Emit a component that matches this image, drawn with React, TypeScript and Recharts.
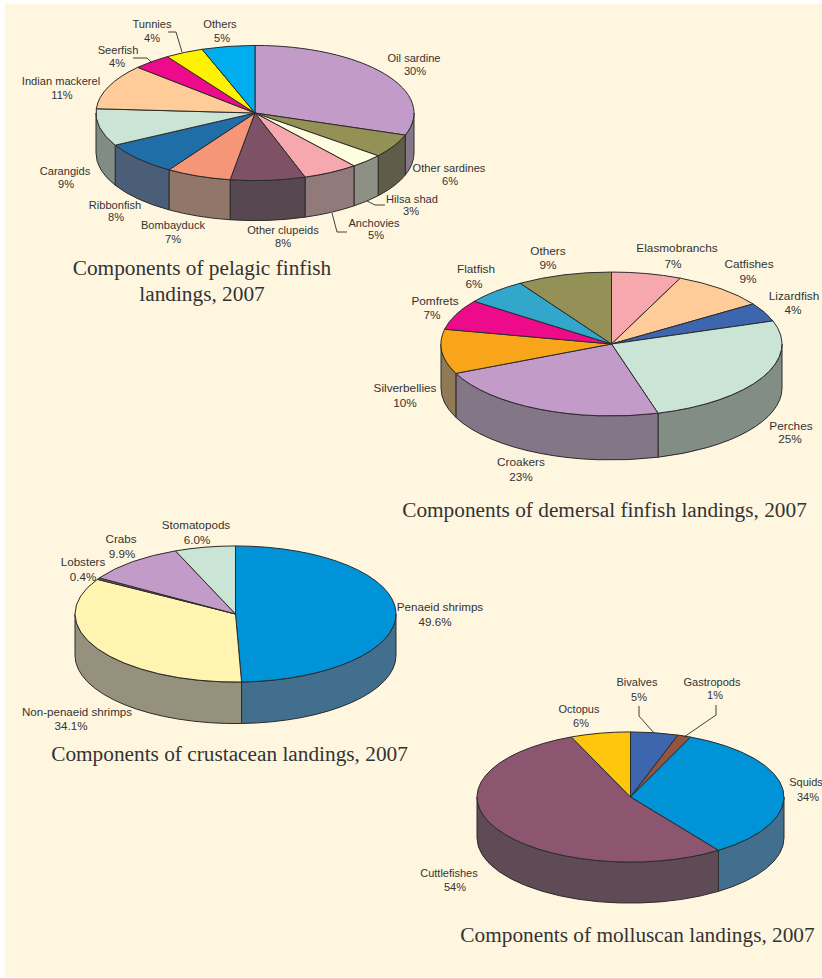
import { PieChart, Pie } from "recharts";

const WIDTH = 822;
const HEIGHT = 978;

// shares are read off the slice edges, the printed labels are rounded
// pelagic finfish
const pelagicNames = ["Oil sardine", "Other sardines", "Hilsa shad", "Anchovies", "Other clupeids", "Bombayduck", "Ribbonfish", "Carangids", "Indian mackerel", "Seerfish", "Tunnies", "Others"];
const pelagicShares = [30.3, 5.6, 3.4, 5.6, 7.6, 6.6, 8.0, 8.9, 10.8, 3.9, 3.9, 5.4];
const pelagicPrinted = ["30%", "6%", "3%", "5%", "8%", "7%", "8%", "9%", "11%", "4%", "4%", "5%"];
const pelagicColors = ["#c29bc8", "#949157", "#fffde0", "#f7a8ae", "#7e5166", "#f59678", "#1f6ea8", "#cae5d5", "#ffcc99", "#ed0a8b", "#fff200", "#00aeef"];
const pelagicWalls = ["#85768a", "#5f5c4a", "#8f9085", "#917a79", "#564750", "#91776a", "#4a5e78", "#808c85", "#91806a", "#8a3a60", "#8f8a30", "#2f6f90"];

// demersal finfish
const demersalNames = ["Elasmobranchs", "Catfishes", "Lizardfish", "Perches", "Croakers", "Silverbellies", "Pomfrets", "Flatfish", "Others"];
const demersalShares = [6.6, 9.0, 4.2, 25.8, 22.7, 10.0, 6.8, 5.9, 9.0];
const demersalPrinted = ["7%", "9%", "4%", "25%", "23%", "10%", "7%", "6%", "9%"];
const demersalColors = ["#f7a8ae", "#ffcc99", "#3e66ae", "#cae5d5", "#c29bc8", "#f9a51a", "#ed0a8b", "#33a6cc", "#949157"];
const demersalWalls = ["#917a79", "#91806a", "#3f5378", "#828d85", "#837686", "#8f7a55", "#8a3a60", "#3f7388", "#5f5c4a"];

// crustaceans
const crustaceanNames = ["Penaeid shrimps", "Non-penaeid shrimps", "Lobsters", "Crabs", "Stomatopods"];
const crustaceanShares = [49.4, 34.1, 0.4, 10.0, 6.1];
const crustaceanPrinted = ["49.6%", "34.1%", "0.4%", "9.9%", "6.0%"];
const crustaceanColors = ["#0093d8", "#fff5b0", "#8c5570", "#c29bc8", "#cae5d5"];
const crustaceanWalls = ["#426f8e", "#95917c", "#5f4b56", "#837686", "#828d85"];

// molluscs
const molluscNames = ["Bivalves", "Gastropods", "Squids", "Cuttlefishes", "Octopus"];
const molluscShares = [5.0, 1.4, 33.9, 53.4, 6.3];
const molluscPrinted = ["5%", "1%", "34%", "54%", "6%"];
const molluscColors = ["#3e66ae", "#93553f", "#0093d8", "#8c5570", "#ffc60b"];
const molluscWalls = ["#3f5378", "#6a4a40", "#426f8e", "#5f4b56", "#8f7a30"];

const INK = "#2b2b2b";
const TEXT = "#333";

type LabelSpot = [number, number, number, number]; // x/y of name, x/y of percent

const pelagicSpots: LabelSpot[] = [
  [414, 58, 415, 71], [449, 168, 450, 181], [412, 199, 411, 211], [374, 223, 376, 235],
  [283, 230, 283, 243], [173, 225, 173, 239], [115, 205, 116, 217], [65, 171, 66, 184],
  [61, 81, 62, 95], [118, 50, 117, 63], [152, 24, 152, 38], [220, 24, 222, 38],
];
const demersalSpots: LabelSpot[] = [
  [677, 248, 673, 264], [749, 264, 748, 279], [794, 296, 793, 310], [791, 426, 790, 439],
  [521, 462, 521, 477], [405, 388, 405, 403], [435, 301, 432, 315], [476, 269, 474, 284], [548, 251, 548, 265],
];
const crustaceanSpots: LabelSpot[] = [
  [440, 607, 435, 622], [77, 712, 71, 726], [83, 562, 83, 577], [121, 539, 122, 554], [196, 525, 197, 540],
];
const molluscSpots: LabelSpot[] = [
  [637, 682, 639, 697], [712, 682, 715, 695], [806, 782, 808, 797], [449, 873, 455, 887], [579, 709, 581, 723],
];

const pelagicLeaders: Record<string, string> = {
  "Hilsa shad": "367,201 375,205 385,205",
  Anchovies: "332,213 337,232 347,232",
  Seerfish: "133,58 147,58 152,63",
  Tunnies: "168,32 176,32 182,52",
};
const molluscLeaders: Record<string, string> = {
  Bivalves: "639,706 639,716 654,733",
  Gastropods: "716,705 716,715 684,737",
};

function point(cx: number, cy: number, rx: number, ry: number, deg: number) {
  const a = (deg * Math.PI) / 180;
  return [cx + rx * Math.cos(a), cy - ry * Math.sin(a)];
}

// top face of a slice, the library's circle squashed into an ellipse
function topFace(ratio: number) {
  return (props: any) => {
    const { cx, cy, outerRadius: rx, startAngle, endAngle, fill } = props;
    const ry = rx * ratio;
    const [x1, y1] = point(cx, cy, rx, ry, startAngle);
    const [x2, y2] = point(cx, cy, rx, ry, endAngle);
    const large = Math.abs(startAngle - endAngle) > 180 ? 1 : 0;
    const d = `M${cx},${cy} L${x1},${y1} A${rx},${ry} 0 ${large} 1 ${x2},${y2} Z`;
    return <path d={d} fill={fill} stroke={INK} strokeWidth={1} strokeLinejoin="round" />;
  };
}

// side wall of a slice, only the front half of the disc can be seen
function sideWall(ratio: number, depth: number) {
  return (props: any) => {
    const { cx, cy, outerRadius: rx, startAngle, endAngle, fill } = props;
    const ry = rx * ratio;
    const hi = Math.min(startAngle, 0);
    const lo = Math.max(endAngle, -180);
    if (hi <= lo) return <g />;
    const [x1, y1] = point(cx, cy, rx, ry, hi);
    const [x2, y2] = point(cx, cy, rx, ry, lo);
    const d = `M${x1},${y1} A${rx},${ry} 0 0 1 ${x2},${y2} L${x2},${y2 + depth} A${rx},${ry} 0 0 0 ${x1},${y1 + depth} Z`;
    return <path d={d} fill={fill} stroke={INK} strokeWidth={1} strokeLinejoin="round" />;
  };
}

function labelsFrom(spots: LabelSpot[], printed: string[], leaders: Record<string, string>, size: number) {
  return (props: any) => {
    const { index, name } = props;
    const [nx, ny, vx, vy] = spots[index];
    const line = leaders[name];
    return (
      <g>
        {line && <polyline points={line} fill="none" stroke={INK} strokeWidth={0.9} />}
        <text x={nx} y={ny + 4} textAnchor="middle" fontFamily="Liberation Sans" fontSize={size} fill={TEXT}>
          {name}
        </text>
        <text x={vx} y={vy + 4} textAnchor="middle" fontFamily="Liberation Sans" fontSize={size} fill={TEXT}>
          {printed[index]}
        </text>
      </g>
    );
  };
}

const rows = (names: string[], values: number[], fills: string[]) =>
  names.map((name, i) => ({ name, value: values[i], fill: fills[i] }));

const discs = [
  { key: "pelagic", names: pelagicNames, values: pelagicShares, printed: pelagicPrinted, colors: pelagicColors, walls: pelagicWalls, spots: pelagicSpots, leaders: pelagicLeaders, cx: 255, cy: 113, rx: 159, ratio: 0.425, depth: 40, size: 11.1 },
  { key: "demersal", names: demersalNames, values: demersalShares, printed: demersalPrinted, colors: demersalColors, walls: demersalWalls, spots: demersalSpots, leaders: {}, cx: 611.5, cy: 344, rx: 170.5, ratio: 0.422, depth: 44, size: 11.8 },
  { key: "crustacean", names: crustaceanNames, values: crustaceanShares, printed: crustaceanPrinted, colors: crustaceanColors, walls: crustaceanWalls, spots: crustaceanSpots, leaders: {}, cx: 235.5, cy: 614, rx: 160.5, ratio: 0.424, depth: 41.5, size: 11.6 },
  { key: "mollusc", names: molluscNames, values: molluscShares, printed: molluscPrinted, colors: molluscColors, walls: molluscWalls, spots: molluscSpots, leaders: molluscLeaders, cx: 630.5, cy: 797, rx: 153.5, ratio: 0.424, depth: 41, size: 11 },
];

const titles = [
  { text: "Components of pelagic finfish", x: 202, y: 268 },
  { text: "landings, 2007", x: 202, y: 294 },
  { text: "Components of demersal finfish landings, 2007", x: 604.5, y: 510 },
  { text: "Components of crustacean landings, 2007", x: 229.5, y: 754 },
  { text: "Components of molluscan landings, 2007", x: 637.5, y: 935 },
];

export default function App() {
  return (
    <div style={{ position: "absolute", left: 0, top: 0, width: WIDTH, height: HEIGHT, background: "#fff", overflow: "hidden" }}>
      <div style={{ position: "absolute", left: 5, top: 4, right: 0, bottom: 1, background: "#fff6e0" }} />
      <div style={{ position: "absolute", left: 0, top: 0 }}>
        <PieChart width={WIDTH} height={HEIGHT} margin={{ top: 0, right: 0, bottom: 0, left: 0 }}>
          {discs.map((d) => (
            <Pie
              key={d.key + "-wall"}
              data={rows(d.names, d.values, d.walls)}
              dataKey="value"
              nameKey="name"
              cx={d.cx}
              cy={d.cy}
              outerRadius={d.rx}
              startAngle={90}
              endAngle={-270}
              isAnimationActive={false}
              shape={sideWall(d.ratio, d.depth)}
            />
          ))}
          {discs.map((d) => (
            <Pie
              key={d.key + "-top"}
              data={rows(d.names, d.values, d.colors)}
              dataKey="value"
              nameKey="name"
              cx={d.cx}
              cy={d.cy}
              outerRadius={d.rx}
              startAngle={90}
              endAngle={-270}
              isAnimationActive={false}
              shape={topFace(d.ratio)}
              label={labelsFrom(d.spots, d.printed, d.leaders, d.size)}
              labelLine={false}
            />
          ))}
        </PieChart>
      </div>
      {titles.map((t) => (
        <div
          key={t.text}
          style={{
            position: "absolute",
            left: t.x,
            top: t.y,
            transform: "translate(-50%, -50%)",
            whiteSpace: "nowrap",
            fontFamily: "Liberation Serif",
            fontSize: 21.3,
            color: "#333",
          }}
        >
          {t.text}
        </div>
      ))}
    </div>
  );
}
